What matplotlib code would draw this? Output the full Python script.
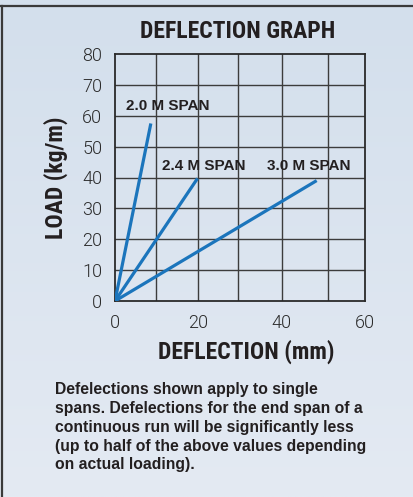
import numpy as np
import matplotlib
matplotlib.use("Agg")
import matplotlib.pyplot as plt
from matplotlib.lines import Line2D

# data
span_labels = ["2.0 M SPAN", "2.4 M SPAN", "3.0 M SPAN"]
span_deflection = [[0, 8.6], [0, 19.8], [0, 48.4]]
span_load = [[0, 57.5], [0, 39.7], [0, 39.0]]
label_pos = [(2.6, 63), (11.2, 43.8), (36.4, 43.8)]
x_ticks = [0, 20, 40, 60]
y_ticks = [0, 10, 20, 30, 40, 50, 60, 70, 80]
x_grid = [9.8, 20, 29.6, 40, 51.2]
note = ("Defelections shown apply to single\n"
        "spans. Defelections for the end span of a\n"
        "continuous run will be significantly less\n"
        "(up to half of the above values depending\n"
        "on actual loading).")

blue = "#1b75bc"
ink = "#231f20"
cond = ["Roboto Condensed", "Archivo Narrow", "Liberation Sans Narrow", "DejaVu Sans"]
sans = ["Liberation Sans", "Arimo", "DejaVu Sans"]

fig = plt.figure(figsize=(4.14, 4.97), dpi=100)

# background gradient
bg = fig.add_axes([0, 0, 1, 1], zorder=-5)
grad = np.linspace(0, 1, 256).reshape(-1, 1)
top_c = np.array([211, 223, 236]) / 255
bot_c = np.array([228, 234, 243]) / 255
img = top_c * (1 - grad[..., None]) + bot_c * grad[..., None]
img = np.repeat(img, 2, axis=1)
bg.imshow(img, aspect="auto", extent=[0, 1, 0, 1])
bg.set_axis_off()

# panel border (top and left)
fig.add_artist(Line2D([0.003, 1], [1 - 5.5 / 497, 1 - 5.5 / 497], color="#3a3a3a", lw=1.6,
                      transform=fig.transFigure))
fig.add_artist(Line2D([0.004, 0.004], [0, 1 - 5.5 / 497], color="#3a3a3a", lw=1.6,
                      transform=fig.transFigure))

ax = fig.add_axes([115 / 414, 1 - 301 / 497, 250 / 414, 247 / 497])
ax.set_facecolor("none")
ax.set_xlim(0, 60)
ax.set_ylim(0, 80)

for xg in x_grid:
    ax.axvline(xg, color="#3c3c3c", lw=1.0, zorder=1)
for yg in y_ticks[1:-1]:
    ax.axhline(yg, color="#3c3c3c", lw=1.0, zorder=1)

for xs, ys in zip(span_deflection, span_load):
    ax.plot(xs, ys, color=blue, lw=2.3, solid_capstyle="butt", zorder=3)

for lab, (lx, ly) in zip(span_labels, label_pos):
    ax.text(lx, ly, lab, fontsize=11, fontweight="bold", color=ink,
            family=sans, va="center", ha="left", zorder=4)

ax.set_xticks(x_ticks)
ax.set_yticks(y_ticks)
ax.tick_params(length=0, pad=9, labelsize=13, labelcolor="#2b2b2b")
for t in ax.get_xticklabels() + ax.get_yticklabels():
    t.set_family(["Roboto", "DejaVu Sans"])
    t.set_fontweight(300)
for s in ax.spines.values():
    s.set_color("#2a2a2a")
    s.set_linewidth(1.3)

fig.text(238 / 414, 1 - 32 / 497, "DEFLECTION GRAPH", ha="center", va="center",
         fontsize=17, fontweight="bold", color=ink, family=cond)
fig.text(246 / 414, 1 - 352 / 497, "DEFLECTION (mm)", ha="center", va="center",
         fontsize=17, fontweight="bold", color=ink, family=cond)
fig.text(56 / 414, 1 - 178 / 497, "LOAD (kg/m)", ha="center", va="center", rotation=90,
         fontsize=17, fontweight="bold", color=ink, family=cond)

fig.text(55 / 414, 1 - 382 / 497, note, ha="left", va="top", fontsize=11.3,
         fontweight="bold", color=ink, family=sans, linespacing=1.32)

fig.savefig("out.png", dpi=100)
